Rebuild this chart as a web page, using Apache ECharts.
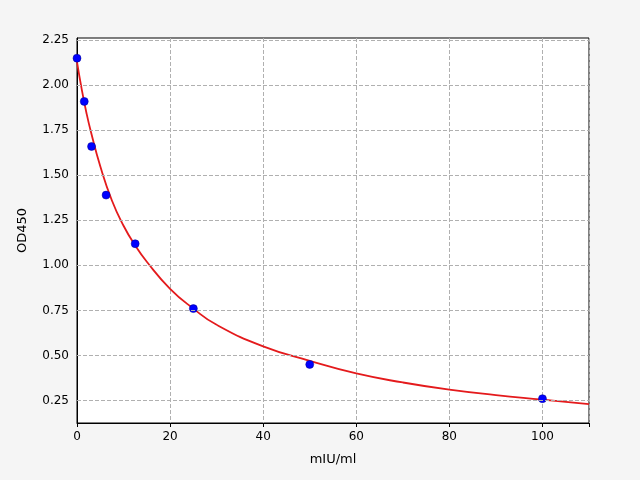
<!DOCTYPE html>
<html>
<head>
<meta charset="utf-8">
<script src="https://cdn.jsdelivr.net/npm/echarts@6/dist/echarts.min.js"></script>
<style>html,body{margin:0;padding:0;background:#f5f5f5}#chart{width:640px;height:480px}</style>
</head>
<body>
<div id="chart"></div>
<script>
// measured standards
var concX = [0, 1.56, 3.125, 6.25, 12.5, 25, 50, 100];
var odY = [2.15, 1.91, 1.66, 1.39, 1.12, 0.76, 0.45, 0.26];
// fitted curve
var fitX = [0, 1, 2, 3, 5, 7.5, 10, 12.5, 15, 20, 25, 30, 40, 50, 60, 70, 80, 90, 100, 110];
var fitY = [2.13, 1.98, 1.85, 1.74, 1.55, 1.36, 1.22, 1.11, 1.02, 0.87, 0.76, 0.67, 0.55, 0.47, 0.40, 0.35, 0.31, 0.28, 0.255, 0.23];
var yTicks = [0.25, 0.5, 0.75, 1.0, 1.25, 1.5, 1.75, 2.0, 2.25];

var chart = echarts.init(document.getElementById('chart'));
var fitData = fitX.map(function (x, i) { return [x, fitY[i]]; });
var ptData = concX.map(function (x, i) { return [x, odY[i]]; });

chart.setOption({
    backgroundColor: '#f5f5f5',
    animation: false,
    grid: {
        left: 77, right: 51, top: 38, bottom: 57,
        show: true, backgroundColor: '#fff', borderColor: '#000', borderWidth: 1
    },
    xAxis: {
        type: 'value', min: 0, max: 110, interval: 20,
        name: 'mIU/ml', nameLocation: 'middle', nameGap: 30,
        nameTextStyle: { color: '#000', fontSize: 13, fontFamily: 'DejaVu Sans' },
        axisLine: { lineStyle: { color: '#000' } },
        axisTick: { show: true, length: 4, lineStyle: { color: '#000' } },
        axisLabel: { color: '#000', fontSize: 12, fontFamily: 'DejaVu Sans',
            formatter: function (v) { return v > 100 ? '' : v; } },
        splitLine: { show: true, lineStyle: { color: '#b0b0b0', type: 'dashed' } }
    },
    yAxis: {
        type: 'value', min: 0.125, max: 2.262, interval: 0.125,
        name: 'OD450', nameLocation: 'middle', nameGap: 48,
        nameTextStyle: { color: '#000', fontSize: 13, fontFamily: 'DejaVu Sans' },
        axisLine: { lineStyle: { color: '#000' } },
        axisTick: { show: false },
        axisLabel: { color: '#000', fontSize: 12, fontFamily: 'DejaVu Sans',
            formatter: function (v) {
                var k = Math.round(v * 8);
                if (Math.abs(v * 8 - k) > 1e-6) return '';
                return k % 2 === 0 ? v.toFixed(2) : '';
            } },
        splitLine: { show: false }
    },
    series: [
        {
            type: 'line', data: fitData, smooth: true, showSymbol: false,
            lineStyle: { color: '#e41a1c', width: 1.8 }, z: 3,
            markLine: {
                silent: true, symbol: 'none', label: { show: false },
                lineStyle: { color: '#b0b0b0', type: 'dashed', width: 1 },
                data: yTicks.map(function (t) { return { yAxis: t }; })
            }
        },
        {
            type: 'scatter', data: ptData, symbolSize: 8,
            itemStyle: { color: '#0000ff', opacity: 1, borderColor: '#00008b', borderWidth: 0.5 }, z: 4
        }
    ]
});
</script>
</body>
</html>
